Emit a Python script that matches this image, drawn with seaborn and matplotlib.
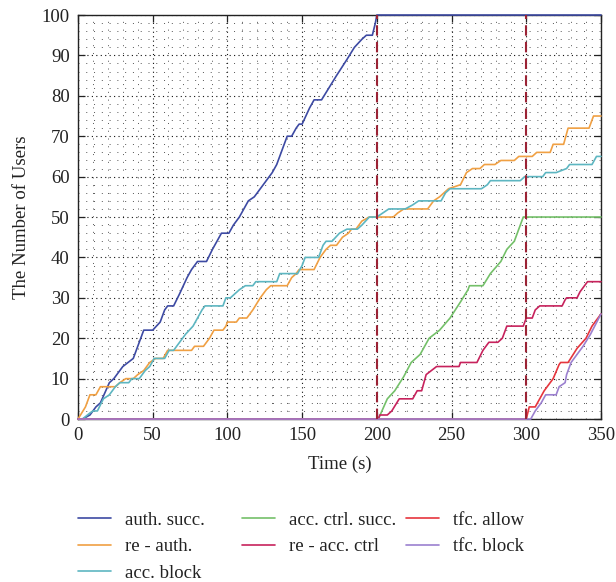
import matplotlib
matplotlib.use("Agg")
import matplotlib.pyplot as plt
from matplotlib.lines import Line2D
import numpy as np
import pandas as pd
import seaborn as sns

# Cumulative user counts over time (breakpoints of each staircase curve)
auth_t = [0, 3, 8, 12, 15, 21, 24, 30, 37, 42, 44, 50, 55, 58, 60, 64, 68, 73, 76, 78, 80, 86,
          90, 93, 96, 101, 104, 108, 114, 118, 122, 126, 130, 133, 137, 140, 143, 146, 148, 150,
          155, 158, 163, 168, 173, 180, 185, 190, 193, 197, 199, 200, 350]
auth_v = [0, 0, 1, 3, 4, 9, 10, 13, 15, 20, 22, 22, 24, 27, 28, 28, 31, 35, 37, 38, 39, 39,
          42, 44, 46, 46, 48, 50, 54, 55, 57, 59, 61, 63, 67, 70, 70, 72, 73, 73,
          77, 79, 79, 82, 85, 89, 92, 94, 95, 95, 98, 100, 100]

reauth_t = [0, 5, 8, 12, 15, 25, 28, 32, 37, 40, 44, 48, 52, 57, 60, 76, 78, 84, 88, 91, 97,
            99, 100, 106, 108, 113, 117, 122, 126, 129, 140, 143, 146, 148, 158, 162, 166, 169,
            173, 177, 181, 183, 186, 190, 195, 211, 214, 218, 234, 238, 242, 248, 256, 260, 264,
            269, 272, 279, 283, 292, 295, 304, 307, 316, 318, 325, 328, 342, 345, 350]
reauth_v = [0, 3, 6, 6, 8, 8, 9, 10, 10, 11, 12, 14, 15, 15, 17, 17, 18, 18, 20, 22, 22,
            23, 24, 24, 25, 25, 27, 30, 32, 33, 33, 35, 36, 37, 37, 40, 42, 43,
            43, 45, 46, 47, 47, 49, 50, 50, 51, 52, 52, 54, 55, 57, 58, 61, 62,
            62, 63, 63, 64, 64, 65, 65, 66, 66, 68, 68, 72, 72, 75, 75]

block_t = [0, 3, 8, 10, 13, 17, 21, 25, 28, 34, 36, 41, 45, 48, 51, 58, 61, 64, 68, 72, 77, 80,
           83, 85, 97, 99, 102, 108, 112, 117, 119, 133, 135, 147, 150, 152, 161, 164, 166, 170,
           175, 180, 187, 190, 195, 200, 204, 208, 219, 224, 228, 243, 246, 249, 270, 274, 276,
           296, 299, 311, 313, 320, 327, 329, 344, 347, 350]
block_v = [0, 0, 1.5, 2, 2, 5, 6, 8, 9, 9, 10, 10, 12, 13, 15, 15, 17, 17, 19, 21, 23, 25,
           27, 28, 28, 30, 30, 32, 33, 33, 34, 34, 36, 36, 38, 40, 40, 43, 44, 44,
           46, 47, 47, 48, 50, 50, 51, 52, 52, 53, 54, 54, 56, 57, 57, 58, 59,
           59, 60, 60, 61, 61, 62, 63, 63, 65, 65]

ctrl_t = [0, 200, 201, 207, 212, 218, 223, 229, 235, 242, 249, 256, 261, 262, 271, 276, 283,
          287, 292, 296, 298, 300, 350]
ctrl_v = [0, 0, 0, 5, 7, 10.5, 14, 16, 20, 22, 25, 29, 32, 33, 33, 36, 39, 42, 44, 48, 50, 50, 50]

reacc_t = [0, 200, 201, 202, 207, 210, 215, 224, 227, 230, 233, 240, 255, 256, 267, 271, 275,
           281, 284, 287, 298, 300, 304, 306, 309, 324, 326, 327, 334, 336, 341, 350]
reacc_v = [0, 0, 0, 1, 1, 2, 5, 5, 7, 7, 11, 13, 13, 14, 14, 17, 19,
           19, 20, 23, 23, 25, 25, 27, 28, 28, 29.5, 30, 30, 31.5, 34, 34]

allow_t = [0, 300, 302, 306, 312, 318, 322, 323, 328, 334, 340, 344, 350]
allow_v = [0, 0, 3, 3, 7, 10, 13.5, 14, 14, 17.5, 20, 23, 26]

tblock_t = [0, 303, 306, 310, 313, 320, 322, 326, 327, 330, 334, 338, 343, 350]
tblock_v = [0, 0, 2, 4, 6, 6, 8, 9, 11, 14, 16, 18, 21, 26]

series_names = ["auth. succ.", "re - auth.", "acc. block", "acc. ctrl. succ.",
                "re - acc. ctrl", "tfc. allow", "tfc. block"]
series_colors = ["#3d4aa3", "#f0a043", "#5db6c1", "#74c069", "#c7225c", "#e6353d", "#9b80cf"]
series_data = [(auth_t, auth_v), (reauth_t, reauth_v), (block_t, block_v), (ctrl_t, ctrl_v),
               (reacc_t, reacc_v), (allow_t, allow_v), (tblock_t, tblock_v)]

phase_marks = [200, 300]

x_ticks = list(range(0, 351, 50))
y_ticks = list(range(0, 101, 10))

frames = []
for name, (t, v) in zip(series_names, series_data):
    frames.append(pd.DataFrame({"time": t, "users": v, "series": name}))
df = pd.concat(frames, ignore_index=True)

sns.set_style("ticks")
plt.rcParams["font.family"] = ["Liberation Serif", "DejaVu Serif"]

fig = plt.figure(figsize=(6.16, 5.82), dpi=100)
ax = fig.add_axes([0.1266, 0.2800, 0.8490, 0.6942])

# minor and major dotted grid
ax.set_xticks(np.arange(0, 351, 10), minor=True)
ax.set_yticks(np.arange(0, 101, 2), minor=True)
ax.grid(which="minor", color="#555555", linestyle=(0, (1, 7)), linewidth=0.7)
ax.grid(which="major", color="#111111", linestyle=(0, (1, 3)), linewidth=0.8)
ax.set_axisbelow(True)

for name, color in zip(series_names, series_colors):
    sub = df[df["series"] == name]
    sns.lineplot(data=sub, x="time", y="users", color=color, linewidth=1.2,
                 estimator=None, sort=False, ax=ax, legend=False, zorder=3, clip_on=False)

for xm in phase_marks:
    ax.axvline(xm, ymin=0, ymax=1, color="#9b2335", linestyle=(0, (5, 3)), linewidth=1.5, zorder=4)

ax.set_xlim(0, 350)
ax.set_ylim(0, 100)
ax.set_xticks(x_ticks)
ax.set_yticks(y_ticks)
ax.tick_params(which="major", direction="in", length=5, width=0.9, top=True, right=True,
               labelsize=13.5, colors="#222222", pad=6)
ax.tick_params(which="minor", length=0, top=True, right=True)
for sp in ax.spines.values():
    sp.set_visible(True)
    sp.set_color("#222222")
    sp.set_linewidth(1.0)
    sp.set_zorder(2)

ax.set_xlabel("Time (s)", fontsize=13.5, color="#222222", labelpad=8)
ax.set_ylabel("The Number of Users", fontsize=13.5, color="#222222", labelpad=8)

# legend laid out as three fixed-width columns below the axes
handles = [Line2D([], [], color=c, linewidth=1.2) for c in series_colors]
columns = [[0, 1, 2], [3, 4], [5, 6]]
col_x = [0.1143, 0.3805, 0.6468]
for cx, idxs in zip(col_x, columns):
    leg = fig.legend([handles[i] for i in idxs], [series_names[i] for i in idxs],
                     loc="upper left", bbox_to_anchor=(cx, 0.134), ncol=1, frameon=False,
                     fontsize=13.5, handlelength=1.75, handletextpad=0.75,
                     labelspacing=0.5, borderaxespad=0)
    for txt in leg.get_texts():
        txt.set_color("#222222")

fig.savefig("out.png", dpi=100)
